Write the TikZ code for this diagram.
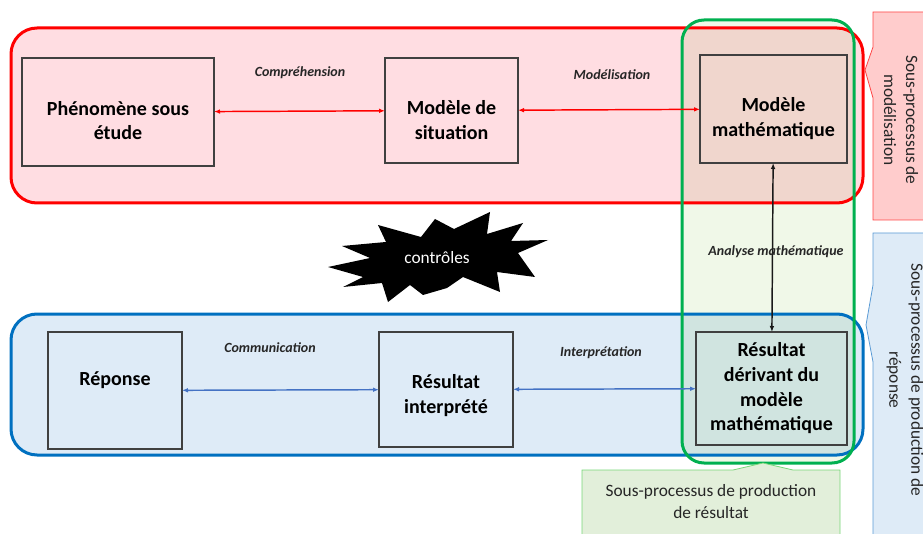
\documentclass[tikz,border=0pt]{standalone}
\usepackage{fontspec}
\setmainfont{Carlito}
\usetikzlibrary{arrows.meta}

\definecolor{modpink}{RGB}{255,221,226}
\definecolor{modred}{RGB}{255,0,0}
\definecolor{repblue}{RGB}{222,235,247}
\definecolor{repline}{RGB}{0,112,192}
\definecolor{resgreen}{RGB}{240,248,232}
\definecolor{resline}{RGB}{0,176,80}
\definecolor{noteredfill}{RGB}{255,204,204}
\definecolor{noteredline}{RGB}{255,70,70}
\definecolor{notebluefill}{RGB}{222,235,247}
\definecolor{noteblueline}{RGB}{91,155,213}
\definecolor{notegreenfill}{RGB}{226,239,218}
\definecolor{notegreenline}{RGB}{120,215,120}
\definecolor{arrowblue}{RGB}{68,114,196}

% pushes the first line of a stage box down
\newcommand{\topgap}[1]{\rule{0pt}{#1}}

\tikzset{
  stagebox/.style={draw=black!75, line width=0.8pt, align=center, inner sep=0pt, outer sep=0pt,
    font=\fontsize{15}{18.5}\selectfont\bfseries},
  steplabel/.style={font=\fontsize{10.5}{12}\selectfont\bfseries\itshape, text=black!85},
  twoway/.style={line width=1.1pt, {Latex[length=4.5pt,width=3.5pt]}-{Latex[length=4.5pt,width=3.5pt]}},
  notetext/.style={font=\fontsize{13}{16.5}\selectfont, align=center, text=black!85}
}

\begin{document}
\begin{tikzpicture}[x=0.75pt,y=-0.75pt]
  \useasboundingbox (0,0) rectangle (923,534);
  \clip (0,0) rectangle (923,534);

  % sub-process frames
  \fill[modpink, rounded corners=19.5pt] (11,28) rectangle (863,203);
  \fill[repblue, rounded corners=19.5pt] (11,314) rectangle (863,455);
  \begin{scope}[blend mode=multiply]
    \fill[resgreen, rounded corners=16.5pt] (682,20) rectangle (854,463);
  \end{scope}
  \draw[modred, line width=2.25pt, rounded corners=19.5pt] (11,28) rectangle (863,203);
  \draw[repline, line width=2.25pt, rounded corners=19.5pt] (11,314) rectangle (863,455);
  \draw[resline, line width=2.25pt, rounded corners=16.5pt] (682,20) rectangle (854,463);

  % callouts
  \draw[noteredline, fill=noteredfill, line width=0.6pt]
    (873,12) -- (950,12) -- (950,220) -- (873,220) -- (873,98) -- (865,70) -- (873,47) -- cycle;
  \draw[noteblueline, fill=notebluefill, line width=0.6pt]
    (873,233) -- (950,233) -- (950,560) -- (873,560) -- (873,362) -- (866,325) -- (873,285) -- cycle;
  \draw[notegreenline, fill=notegreenfill, line width=0.6pt]
    (582,470) -- (733,470) -- (763,463) -- (793,470) -- (840,470) -- (840,560) -- (582,560) -- cycle;
  \node[notetext, rotate=-90] (modnote) at (901,120) {Sous-processus de\\modélisation};
  \node[notetext, rotate=-90] (repnote) at (905,380) {Sous-processus de production de\\réponse};
  \node[notetext] (resnote) at (711,502) {Sous-processus de production\\de résultat};

  % controls burst
  \fill[black] (328,267) -- (370,258) -- (342,246) -- (386,242) -- (378,225) -- (421,237)
    -- (435,219) -- (454,229) -- (490,212) -- (487,234) -- (523,223) -- (511,241)
    -- (548,240) -- (518,253) -- (535,277) -- (497,272) -- (500,292) -- (463,277)
    -- (447,288) -- (423,295) -- (410,285) -- (388,302) -- (382,283) -- (343,287)
    -- (363,277) -- cycle;
  \node[text=white, font=\fontsize{13}{15}\selectfont] (ctrl) at (437,258) {contrôles};

  % stages
  \node[stagebox, minimum width=144pt, minimum height=81pt] (phen) at (118,112) {\topgap{23.5pt}Phénomène sous\\étude};
  \node[stagebox, minimum width=99.75pt, minimum height=78.75pt] (sit) at (451.5,110.5) {\topgap{25pt}Modèle de\\situation};
  \node[stagebox, minimum width=110.25pt, minimum height=81pt] (math) at (773.5,109) {\topgap{25pt}Modèle\\mathématique};
  \node[stagebox, minimum width=100.5pt, minimum height=87.75pt] (rep) at (115,390.5) {Réponse\\\mbox{}};
  \node[stagebox, minimum width=100.5pt, minimum height=86.25pt] (interp) at (446,389.5) {\topgap{19.5pt}Résultat\\interprété};
  \node[stagebox, minimum width=113.25pt, minimum height=84.75pt] (res) at (771.5,388.5) {Résultat\\dérivant du\\modèle\\mathématique};

  % links
  \draw[twoway, modred] (phen) -- (sit);
  \draw[twoway, modred] (sit) -- (math);
  \draw[twoway, black!90] (math) -- (res);
  \draw[twoway, arrowblue] (rep) -- (interp);
  \draw[twoway, arrowblue] (interp) -- (res);

  \node[steplabel] (lcomp) at (300,73) {Compréhension};
  \node[steplabel] (lmod) at (612,75) {Modélisation};
  \node[steplabel] (lana) at (776,252) {Analyse mathématique};
  \node[steplabel] (lcomm) at (270,348) {Communication};
  \node[steplabel] (linterp) at (601,353) {Interprétation};
\end{tikzpicture}
\end{document}
